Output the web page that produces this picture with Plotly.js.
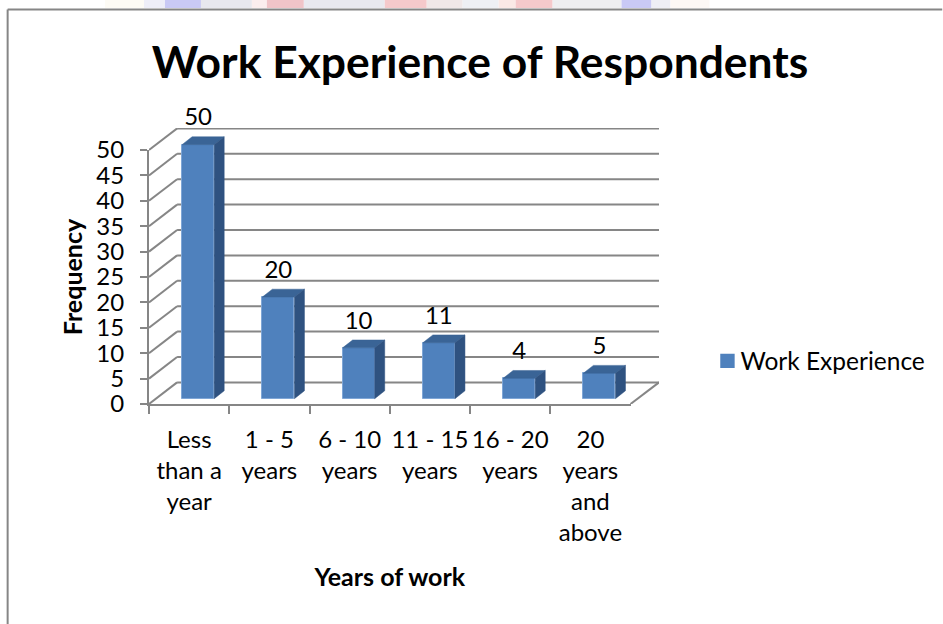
<!DOCTYPE html>
<html><head><meta charset="utf-8">
<script src="https://cdn.plot.ly/plotly-3.0.1.min.js"></script>
<style>html,body{margin:0;padding:0;background:#fff}#c{width:943px;height:624px}</style>
</head><body><div id="c"></div>
<script>
const categories = ['Less<br>than a<br>year','1 - 5<br>years','6 - 10<br>years','11 - 15<br>years','16 - 20<br>years','20<br>years<br>and<br>above'];
const values = [50,20,10,11,4,5];
const yTicks = [0,5,10,15,20,25,30,35,40,45,50];
const seriesName = 'Work Experience';

const W=943,H=624,L=149,R=659.5,T=128,B=404,frontR=631,frontT=150;
const GRAY='#868686',FONT='Lato, "Open Sans", sans-serif';
const depX=6.35-6, depY=4.25;
const yMax=50*(B-T)/(B-frontT), xMax=6*(R-L)/(frontR-L);
const barW=0.4, barDx=0.112, barDy=1.05, sideX=0.125, sideY=1.55, labelGap=1.05;
const cx=values.map((v,i)=>i+0.5+barDx);
const base=values.map(()=>barDy);

const topX=[],topY=[],sideXs=[],sideYs=[];
values.forEach((v,i)=>{
  const l=cx[i]-barW/2,r=cx[i]+barW/2,t=barDy+v,b=barDy;
  topX.push(l,r,r+sideX,l+sideX,l,null);
  topY.push(t,t,t+sideY,t+sideY,t,null);
  sideXs.push(r,r+sideX,r+sideX,r,r,null);
  sideYs.push(b,b+sideY,t+sideY,t,b,null);
});

const ln={color:GRAY,width:2};
const seg=(x0,y0,x1,y1)=>({type:'line',xref:'x',yref:'y',layer:'below',x0,y0,x1,y1,line:ln});
const shapes=[];
yTicks.forEach(t=>{
  shapes.push(seg(depX,t+depY,xMax,t+depY));
  shapes.push(seg(0,t,depX,t+depY));
});
shapes.push(seg(6,0,xMax,depY));
const px=x=>(x-L)/(R-L), py=y=>(B-y)/(B-T);
shapes.push({type:'line',xref:'paper',yref:'paper',x0:px(7.5),x1:px(943),y0:py(9.5),y1:py(9.5),line:ln});
shapes.push({type:'line',xref:'paper',yref:'paper',x0:px(7.5),x1:px(7.5),y0:py(9.5),y1:py(624),line:ln});

// pale remnant strip above the chart frame
const stripEdges=[105,144,165,201,252,267,304,385,427,463,499,516,553,622,652,671,710];
const stripColors=['#fdfbf5','#eeeef8','#c9c9f5','#e8e8ee','#fbeeee','#f0c4c8','#e9e9ef','#f5c9cb','#f0e8e8','#eef0f4','#fae9e6','#f5c9cb','#eeeef0','#c9c9f5','#eeeef5','#fdf8f5'];
stripColors.forEach((c,i)=>shapes.push({type:'rect',xref:'paper',yref:'paper',x0:px(stripEdges[i]),x1:px(stripEdges[i+1]),y0:py(0),y1:py(8),fillcolor:c,line:{width:0}}));

const data=[
 {type:'bar',name:seriesName,x:cx,y:values,base:base,width:barW,
  marker:{color:'#4F81BD',line:{color:'#7FA6D6',width:1}},cliponaxis:false,showlegend:true,hoverinfo:'y'},
 {type:'scatter',mode:'lines',x:topX,y:topY,fill:'toself',fillcolor:'#3A6496',line:{width:0.5,color:'#3A6496'},showlegend:false,hoverinfo:'skip'},
 {type:'scatter',mode:'lines',x:sideXs,y:sideYs,fill:'toself',fillcolor:'#2F5280',line:{width:0.5,color:'#2F5280'},showlegend:false,hoverinfo:'skip'},
 {type:'scatter',mode:'text',x:cx,y:values.map(v=>v+barDy+sideY+labelGap),text:values.map(String),textposition:'top center',
  textfont:{family:FONT,size:24,color:'#000'},cliponaxis:false,showlegend:false,hoverinfo:'skip'},
 {type:'scatter',mode:'markers',xaxis:'x2',yaxis:'y2',x:categories,y:values,marker:{opacity:0},showlegend:false,hoverinfo:'skip'}
];

const layout={
 width:W,height:H,paper_bgcolor:'#fff',plot_bgcolor:'rgba(0,0,0,0)',
 margin:{l:L,r:W-R,t:T,b:H-B,autoexpand:false},
 font:{family:FONT,color:'#000'},
 title:{text:'<b>Work Experience of Respondents</b>',font:{family:FONT,size:44.4,color:'#000'},x:480/W,xanchor:'center',y:1-62/H,yanchor:'middle'},
 xaxis:{visible:false,range:[0,xMax],fixedrange:true},
 yaxis:{visible:false,range:[0,yMax],fixedrange:true},
 xaxis2:{anchor:'y2',domain:[0,(frontR-L)/(R-L)],type:'category',categoryorder:'array',categoryarray:categories,range:[-0.5,5.5],
   tickson:'boundaries',ticks:'outside',ticklen:8,tickwidth:2,tickcolor:GRAY,showgrid:false,zeroline:false,showline:true,linecolor:GRAY,linewidth:2,
   tickangle:0,ticklabelstandoff:13,tickfont:{family:FONT,size:24},
   title:{text:'<b>Years of work</b>',font:{family:FONT,size:25},standoff:23}},
 yaxis2:{anchor:'x2',domain:[0,(B-frontT)/(B-T)],range:[0,50],tickvals:yTicks,
   ticks:'outside',ticklen:7,tickwidth:2,tickcolor:GRAY,showgrid:false,zeroline:false,showline:true,linecolor:GRAY,linewidth:2,
   ticklabelstandoff:11,tickfont:{family:FONT,size:24},
   title:{text:'<b>Frequency</b>',font:{family:FONT,size:25},standoff:7}},
 legend:{x:px(701),xanchor:'left',y:py(361),yanchor:'middle',font:{family:FONT,size:24.5},bgcolor:'rgba(0,0,0,0)'},
 shapes:shapes,bargap:0
};
Plotly.newPlot('c',data,layout,{displayModeBar:false,responsive:false}).then(()=>{
  document.querySelectorAll('.legend .legendbar, .legend .legendpoints path').forEach(p=>{
    const m=/translate\(([-\d.]+)[ ,]*([-\d.]*)\)/.exec(p.getAttribute('transform')||'');
    const tx=m?parseFloat(m[1]):20, ty=m&&m[2]?parseFloat(m[2]):0;
    p.setAttribute('transform','translate('+(tx+7)+','+ty+') scale(1.2)');
    p.style.strokeWidth='0';
  });
});
</script></body></html>
